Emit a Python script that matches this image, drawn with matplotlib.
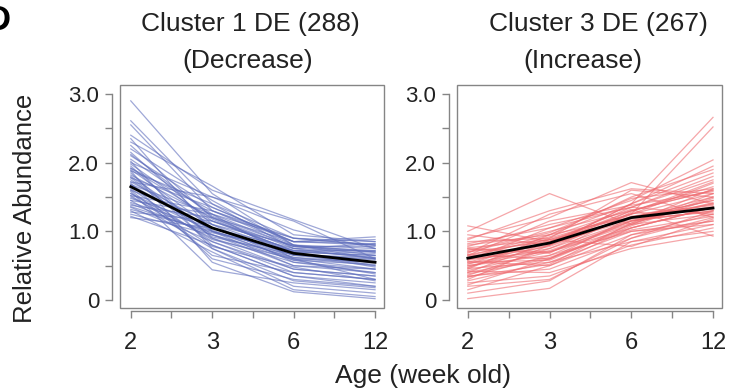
import numpy as np
import matplotlib
matplotlib.use("Agg")
import matplotlib.pyplot as plt
from matplotlib.patches import Rectangle


ages = ["2", "3", "6", "12"]

# per-protein relative abundance at each age
cluster1_profiles = [
    [2.90, 1.55, 0.80, 0.60], [2.61, 1.40, 0.75, 0.70], [2.55, 1.30, 0.90, 0.80],
    [2.40, 1.60, 1.17, 0.75], [2.30, 1.66, 0.95, 0.85], [2.25, 1.20, 0.70, 0.50],
    [2.20, 1.45, 0.80, 0.65], [2.15, 1.10, 0.55, 0.40], [2.10, 1.35, 0.85, 0.92],
    [2.05, 1.25, 0.60, 0.30], [2.00, 1.50, 1.02, 0.75], [1.98, 1.15, 0.72, 0.62],
    [1.95, 0.90, 0.45, 0.35], [1.92, 1.30, 0.80, 0.70], [1.90, 1.05, 0.65, 0.55],
    [1.88, 1.40, 0.90, 0.80], [1.85, 0.80, 0.35, 0.25], [1.82, 1.20, 0.75, 0.60],
    [1.80, 1.00, 0.60, 0.45], [1.78, 1.35, 0.85, 0.82], [1.75, 0.95, 0.50, 0.40],
    [1.72, 1.10, 0.70, 0.65], [1.70, 0.60, 0.30, 0.20], [1.68, 1.25, 0.78, 0.72],
    [1.65, 1.05, 0.62, 0.50], [1.62, 0.85, 0.40, 0.30], [1.60, 1.15, 0.72, 0.68],
    [1.58, 0.44, 0.25, 0.15], [1.55, 1.00, 0.68, 0.58], [1.52, 1.30, 0.85, 0.88],
    [1.50, 0.90, 0.55, 0.45], [1.48, 1.10, 0.80, 0.75], [1.45, 0.75, 0.20, 0.10],
    [1.42, 1.05, 0.65, 0.60], [1.40, 0.95, 0.58, 0.52], [1.38, 1.20, 0.85, 0.80],
    [1.35, 0.85, 0.45, 0.35], [1.32, 1.00, 0.70, 0.65], [1.30, 0.70, 0.15, 0.05],
    [1.28, 1.15, 0.78, 0.70], [1.25, 0.95, 0.62, 0.55], [1.22, 0.80, 0.35, 0.20],
    [1.20, 1.05, 0.75, 0.82], [2.02, 0.75, 0.28, 0.18], [1.88, 0.55, 0.12, 0.02],
    [1.72, 1.50, 1.15, 0.60], [2.35, 1.00, 0.50, 0.45], [1.60, 0.65, 0.40, 0.30],
    [1.45, 1.25, 0.90, 0.85], [1.78, 0.92, 0.66, 0.62], [1.55, 0.88, 0.60, 0.55],
    [1.92, 1.18, 0.68, 0.48], [1.68, 1.02, 0.58, 0.38], [1.36, 0.98, 0.72, 0.72],
    [2.12, 1.22, 0.78, 0.78], [1.52, 0.78, 0.48, 0.28],
]
cluster1_mean = [1.65, 1.05, 0.68, 0.55]

cluster3_profiles = [
    [1.08, 0.85, 1.30, 1.60], [1.00, 1.55, 1.10, 1.50], [0.95, 0.80, 1.40, 2.66],
    [0.90, 1.20, 1.71, 1.40], [0.85, 0.90, 1.25, 2.52], [0.82, 1.05, 1.45, 2.04],
    [0.80, 0.95, 1.50, 1.90], [0.78, 1.10, 1.35, 1.75], [0.75, 0.70, 1.15, 1.30],
    [0.72, 1.00, 1.30, 1.65], [0.70, 0.85, 1.20, 1.45], [0.68, 1.25, 1.55, 1.20],
    [0.66, 0.60, 1.05, 1.35], [0.64, 0.95, 1.40, 1.85], [0.62, 0.80, 1.20, 1.40],
    [0.60, 0.70, 1.10, 1.55], [0.58, 1.05, 1.35, 1.25], [0.56, 0.50, 0.95, 1.15],
    [0.55, 0.85, 1.25, 1.70], [0.53, 0.75, 1.15, 1.30], [0.52, 0.90, 1.60, 1.50],
    [0.50, 0.65, 1.00, 1.10], [0.48, 0.80, 1.30, 1.60], [0.46, 0.55, 0.85, 1.00],
    [0.45, 0.95, 1.20, 1.45], [0.43, 0.70, 1.05, 1.35], [0.42, 0.40, 0.75, 0.95],
    [0.40, 0.85, 1.35, 1.80], [0.38, 0.60, 1.10, 1.25], [0.36, 0.75, 1.25, 1.55],
    [0.35, 0.45, 0.90, 1.20], [0.33, 0.65, 1.15, 1.40], [0.30, 0.80, 1.40, 1.95],
    [0.28, 0.55, 1.00, 1.15], [0.25, 0.35, 0.80, 1.05], [0.22, 0.60, 1.20, 1.50],
    [0.20, 0.30, 0.90, 1.30], [0.15, 0.50, 1.05, 1.35], [0.10, 0.28, 0.95, 1.25],
    [0.02, 0.17, 0.85, 1.10], [0.88, 1.30, 1.62, 1.55], [0.74, 0.68, 1.28, 1.72],
    [0.66, 0.88, 1.18, 1.28], [0.58, 0.78, 1.22, 1.38], [0.50, 0.72, 1.12, 1.42],
    [0.62, 0.92, 1.32, 0.93], [0.70, 0.98, 1.48, 1.62], [0.40, 0.62, 1.02, 1.22],
    [0.55, 0.58, 1.08, 1.48], [0.65, 1.15, 1.38, 1.58], [0.47, 0.88, 1.26, 1.32],
    [0.34, 0.52, 1.12, 1.62], [0.60, 0.82, 1.16, 1.36], [0.76, 0.88, 0.78, 1.18],
]
cluster3_mean = [0.61, 0.83, 1.20, 1.34]

title_lines = [("Cluster 1 DE (288)", "(Decrease)"),
               ("Cluster 3 DE (267)", "(Increase)")]

plt.rcParams['font.family'] = ['Liberation Sans', 'DejaVu Sans']

W, H = 736, 392
fig = plt.figure(figsize=(W / 100, H / 100), dpi=100)
ax1 = fig.add_axes([120 / W, 1 - 308 / H, 264 / W, 223 / H])
ax2 = fig.add_axes([457 / W, 1 - 308 / H, 265 / W, 223 / H])

xpos = np.arange(len(ages)) * 2  # majors at 0,2,4,6 with minor ticks between
GREY = '#858585'
TXT = '#222222'


def _panel(ax, profiles, mean, color):
    for prof in profiles:
        ax.plot(xpos, prof, color=color, lw=0.9, alpha=0.6)
    ax.plot(xpos, mean, color='black', lw=2)
    ax.set_xlim(-0.265, 6.22)
    ax.set_ylim(-0.116, 3.131)
    ax.set_xticks(xpos)
    ax.set_xticklabels(ages)
    ax.set_xticks([1, 3, 5], minor=True)
    ax.set_yticks([0, 1, 2, 3])
    ax.set_yticklabels(["0", "1.0", "2.0", "3.0"])
    ax.set_yticks([0.5, 1.5, 2.5], minor=True)

    # frame box, plus trimmed and offset left / bottom axes
    ax.add_patch(Rectangle((0, 0), 1, 1, transform=ax.transAxes, fill=False,
                           edgecolor=GREY, lw=1.0, clip_on=False, zorder=3))
    for side in ('top', 'right'):
        ax.spines[side].set_visible(False)
    ax.spines['left'].set_position(('outward', 6))
    ax.spines['left'].set_bounds(0, 3)
    ax.spines['bottom'].set_position(('outward', 2))
    ax.spines['bottom'].set_bounds(0, 6)
    for side in ('left', 'bottom'):
        ax.spines[side].set_color(GREY)
        ax.spines[side].set_linewidth(1.0)

    ax.tick_params(which='both', direction='out', length=5, width=1, color=GREY)
    ax.tick_params(axis='y', labelsize=16, labelcolor=TXT, pad=4)
    ax.tick_params(axis='x', labelsize=17, labelcolor=TXT, pad=10)


_panel(ax1, cluster1_profiles, cluster1_mean, '#5f6ebd')
_panel(ax2, cluster3_profiles, cluster3_mean, '#ef6b70')

for (line1, line2), (cx1, cx2) in zip(title_lines, [(250, 248), (598, 583)]):
    fig.text(cx1 / W, 1 - 24 / H, line1, ha='center', va='center',
             fontsize=19, color=TXT)
    fig.text(cx2 / W, 1 - 61 / H, line2, ha='center', va='center',
             fontsize=19, color=TXT)

fig.text(423 / W, 1 - 376 / H, "Age (week old)", ha='center', va='center',
         fontsize=19, color=TXT)
fig.text(25 / W, 1 - 208 / H, "Relative Abundance", ha='center', va='center',
         rotation=90, fontsize=18.5, color=TXT)
fig.text(11 / W, 1 - 20 / H, "D", ha='right', va='center', fontsize=25,
         fontweight='bold', color='black')

fig.savefig("out.png", dpi=100)
